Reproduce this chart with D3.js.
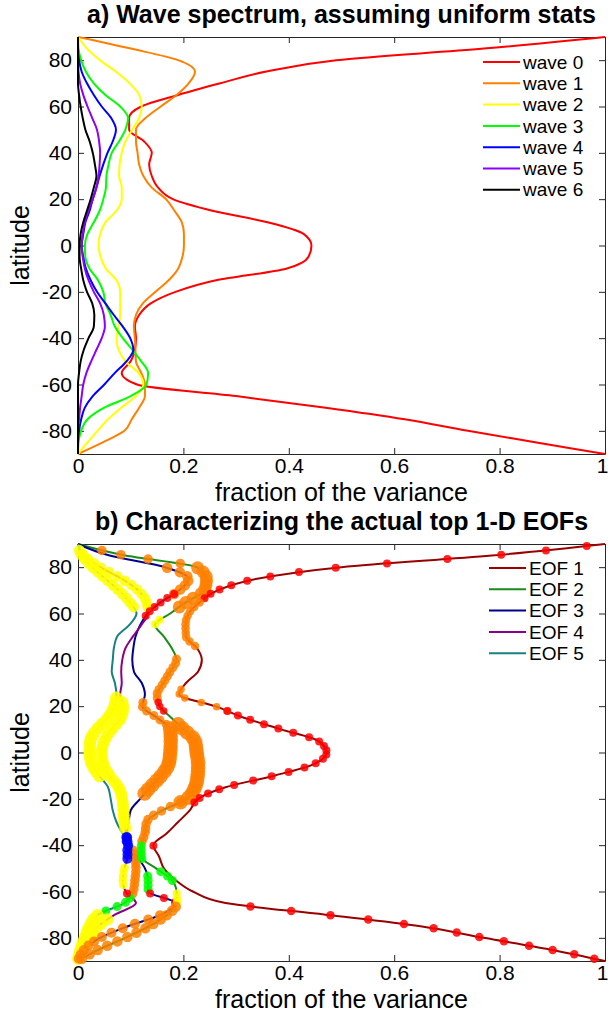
<!DOCTYPE html>
<html>
<head>
<meta charset="utf-8">
<script src="https://cdn.jsdelivr.net/npm/d3@7"></script>
<style>
  body { margin: 0; background: #fff; }
  text { font-family: "Liberation Sans", Arial, Helvetica, sans-serif; }
</style>
</head>
<body>
<div id="chart"></div>
<script>
// latitude grid shared by both panels (south -> north)
var lats = [-90,-85,-80,-75,-70,-65,-60,-55,-50,-45,-40,-35,-30,-25,-20,-15,-10,-5,0,
            5,10,15,20,25,30,35,40,45,50,55,60,65,70,75,80,85,90];

var xTicks = [0, 0.2, 0.4, 0.6, 0.8, 1];
var yTicks = [-80, -60, -40, -20, 0, 20, 40, 60, 80];

// a) fraction of variance per zonal wave number
var waveNames = ["wave 0", "wave 1", "wave 2", "wave 3", "wave 4", "wave 5", "wave 6"];
var waveColors = ["#ff0000", "#ff8000", "#ffff00", "#00ff00", "#0000ff", "#8b00ff", "#000000"];

var wave0 = [1.0,0.87,0.74,0.62,0.47,0.30,0.112,0.083,0.10,0.108,0.11,0.108,0.116,0.138,0.185,0.262,0.395,0.437,0.443,
             0.428,0.36,0.255,0.18,0.152,0.14,0.135,0.14,0.125,0.097,0.097,0.12,0.19,0.27,0.355,0.49,0.77,1.0];
var wave1 = [0,0.047,0.088,0.102,0.116,0.127,0.127,0.12,0.11,0.109,0.108,0.106,0.11,0.123,0.147,0.172,0.19,0.198,0.201,
             0.201,0.197,0.183,0.167,0.14,0.124,0.116,0.113,0.11,0.11,0.128,0.157,0.187,0.21,0.222,0.19,0.10,0];
var wave2 = [0,0.018,0.037,0.057,0.082,0.11,0.124,0.115,0.09,0.077,0.073,0.077,0.08,0.08,0.08,0.073,0.053,0.043,0.039,
             0.042,0.052,0.073,0.083,0.083,0.078,0.079,0.083,0.09,0.103,0.116,0.121,0.116,0.098,0.072,0.042,0.017,0];
var wave3 = [0,0.001,0.006,0.018,0.05,0.10,0.13,0.133,0.12,0.103,0.085,0.07,0.062,0.052,0.048,0.038,0.022,0.014,0.013,
             0.018,0.03,0.041,0.048,0.053,0.054,0.058,0.064,0.078,0.09,0.095,0.08,0.052,0.03,0.015,0.006,0.001,0];
var wave4 = [0,0,0.002,0.006,0.013,0.028,0.05,0.07,0.092,0.105,0.099,0.085,0.068,0.052,0.036,0.024,0.015,0.01,0.007,
             0.01,0.014,0.022,0.028,0.035,0.041,0.048,0.056,0.066,0.072,0.063,0.045,0.03,0.017,0.007,0.002,0,0];
var wave5 = [0,0,0,0.002,0.004,0.007,0.01,0.016,0.025,0.035,0.045,0.051,0.049,0.042,0.03,0.02,0.013,0.009,0.007,
             0.009,0.013,0.02,0.028,0.035,0.039,0.041,0.042,0.04,0.036,0.027,0.018,0.01,0.004,0.001,0,0,0];
var wave6 = [0,0,0,0,0,0,0,0.002,0.005,0.011,0.02,0.03,0.031,0.027,0.017,0.01,0.006,0.003,0.003,
             0.005,0.01,0.017,0.024,0.03,0.035,0.032,0.028,0.022,0.014,0.009,0.005,0.002,0,0,0,0,0];
var waves = [wave0, wave1, wave2, wave3, wave4, wave5, wave6];

// b) fraction of variance carried by the top 1-D EOFs
var eofNames = ["EOF 1", "EOF 2", "EOF 3", "EOF 4", "EOF 5"];
var eofColors = ["#990000", "#1a8c1a", "#00008b", "#8b008b", "#1a8080"];

var eof1 = [1.0,0.895,0.77,0.65,0.47,0.28,0.218,0.185,0.163,0.154,0.143,0.168,0.19,0.212,0.228,0.28,0.372,0.448,0.472,
            0.456,0.385,0.315,0.26,0.192,0.205,0.228,0.235,0.226,0.205,0.204,0.21,0.232,0.265,0.34,0.50,0.785,1.0];
var eof2 = [0,0.04,0.09,0.135,0.17,0.188,0.187,0.178,0.148,0.12,0.12,0.127,0.13,0.16,0.207,0.222,0.227,0.228,0.225,
            0.222,0.2,0.177,0.155,0.15,0.162,0.175,0.187,0.178,0.163,0.146,0.175,0.206,0.24,0.244,0.225,0.09,0];
var eof3 = [0,0.012,0.042,0.095,0.158,0.185,0.133,0.133,0.127,0.112,0.095,0.093,0.096,0.1,0.118,0.137,0.158,0.172,0.175,
            0.176,0.175,0.15,0.122,0.127,0.121,0.106,0.103,0.105,0.109,0.118,0.132,0.158,0.192,0.21,0.165,0.06,0];
var eof4 = [0,0.007,0.02,0.038,0.07,0.11,0.09,0.085,0.088,0.094,0.093,0.091,0.088,0.086,0.084,0.077,0.06,0.048,0.045,
            0.05,0.064,0.082,0.086,0.08,0.083,0.082,0.084,0.09,0.104,0.12,0.133,0.13,0.114,0.083,0.042,0.012,0];
var eof5 = [0,0.005,0.013,0.022,0.038,0.088,0.105,0.108,0.11,0.108,0.1,0.085,0.073,0.066,0.062,0.057,0.04,0.026,0.022,
            0.023,0.036,0.057,0.069,0.073,0.07,0.064,0.066,0.068,0.074,0.097,0.111,0.098,0.077,0.052,0.027,0.007,0];
var eofs = [eof1, eof2, eof3, eof4, eof5];

// which wave dominates an EOF along a latitude band: [north, south, wave number, strength 0..1]
var eof1Marks = [[90,66,0,0.3],[64,46,1,0.35],[28,18,1,0.25],[17,-21,0,0.3],[-40,-40,0,0.3],[-66,-90,0,0.35]];
var eof2Marks = [[88,81,1,0.45],[80,62,1,0.8],[57,55,2,0.3],[40,23,1,0.4],[21,18,0,0.25],[12,-22,1,0.95],
                 [-22,-39,1,0.45],[-40,-46,3,0.4],[-51,-55,3,0.4],[-61,-65,2,0.3],[-66,-90,1,0.55]];
var eof3Marks = [[80,69,1,0.55],[68,60,0,0.3],[22,12,1,0.4],[11,-18,1,0.95],[-37,-41,4,0.5],[-54,-59,3,0.4],
                 [-61,-65,0,0.3],[-70,-90,1,0.5]];
var eof4Marks = [[86,62,2,0.55],[22,-33,2,0.7],[-36,-38,4,0.5],[-43,-46,4,0.5],[-50,-58,2,0.35],[-60,-60,0,0.3],
                 [-73,-90,2,0.75]];
var eof5Marks = [[88,62,2,0.6],[24,-11,2,0.75],[-42,-60,1,0.45],[-63,-69,3,0.4],[-70,-90,2,0.75]];
var eofMarks = [eof1Marks, eof2Marks, eof3Marks, eof4Marks, eof5Marks];

// latitudes of the model grid where markers sit
var gridLats = d3.range(-89, 90, 1.875);

var width = 608, height = 1016;
var left = 78, right = 605;

var x = d3.scaleLinear().domain([0, 1]).range([left, right]);
var r = d3.scaleLinear().domain([0, 1]).range([2.5, 7.5]);

var svg = d3.select("#chart")
    .append("svg")
        .attr("width", width)
        .attr("height", height);

var panels = [
    { top: 37,  bottom: 454, title: "a) Wave spectrum, assuming uniform stats" },
    { top: 544, bottom: 961, title: "b) Characterizing the actual top 1-D EOFs" }
];

function frame(p) {
    var y = d3.scaleLinear().domain([-90, 90]).range([p.bottom, p.top]);
    var g = svg.append("g");

    var xb = g.append("g")
        .attr("transform", "translate(0," + p.bottom + ")")
        .call(d3.axisBottom(x).tickValues(xTicks).tickSizeInner(-6).tickSizeOuter(0)
            .tickPadding(4).tickFormat(String));
    var xt = g.append("g")
        .attr("transform", "translate(0," + p.top + ")")
        .call(d3.axisTop(x).tickValues(xTicks).tickSizeInner(-6).tickSizeOuter(0).tickFormat(""));
    var yl = g.append("g")
        .attr("transform", "translate(" + left + ",0)")
        .call(d3.axisLeft(y).tickValues(yTicks).tickSizeInner(-6).tickSizeOuter(0)
            .tickPadding(6).tickFormat(String));
    var yr = g.append("g")
        .attr("transform", "translate(" + right + ",0)")
        .call(d3.axisRight(y).tickValues(yTicks).tickSizeInner(-6).tickSizeOuter(0).tickFormat(""));

    [xb, xt, yl, yr].forEach(function(a) {
        a.attr("font-size", 21).attr("font-family", null);
        a.selectAll("path, line").attr("stroke", "#262626");
        a.selectAll("text").attr("fill", "#000");
    });
    // keep the last x label inside the page
    xb.selectAll(".tick text").filter(function(d) { return d === 1; }).attr("dx", "-3");

    // title
    g.append("text")
        .attr("x", (left + right) / 2)
        .attr("y", p.top - 14)
        .attr("text-anchor", "middle")
        .attr("font-size", 25)
        .attr("font-weight", "bold")
        .text(p.title);

    // X label
    g.append("text")
        .attr("x", (left + right) / 2)
        .attr("y", p.bottom + 47)
        .attr("text-anchor", "middle")
        .attr("font-size", 25)
        .text("fraction of the variance");

    // Y label
    g.append("text")
        .attr("transform", "translate(29," + (p.top + p.bottom) / 2 + ") rotate(-90)")
        .attr("text-anchor", "middle")
        .attr("font-size", 25)
        .text("latitude");

    return { g: g, y: y };
}

function legend(g, names, colors, x0, y0, step) {
    names.forEach(function(name, i) {
        var yy = y0 + i * step;
        g.append("line")
            .attr("x1", x0).attr("x2", x0 + 37)
            .attr("y1", yy).attr("y2", yy)
            .attr("stroke", colors[i])
            .attr("stroke-width", 2);
        g.append("text")
            .attr("x", x0 + 40)
            .attr("y", yy)
            .attr("dy", "0.35em")
            .attr("font-size", 19)
            .text(name);
    });
}

// ---- panel a ----
var pa = frame(panels[0]);
var lineA = d3.line()
    .x(function(d) { return x(d[1]); })
    .y(function(d) { return pa.y(d[0]); })
    .curve(d3.curveMonotoneY);

waves.forEach(function(w, i) {
    pa.g.append("path")
        .datum(d3.zip(lats, w))
        .attr("fill", "none")
        .attr("stroke", waveColors[i])
        .attr("stroke-width", 2)
        .attr("d", lineA);
});
legend(pa.g, waveNames, waveColors, 483, 62, 21.3);

// ---- panel b ----
var pb = frame(panels[1]);
var lineB = d3.line()
    .x(function(d) { return x(d[1]); })
    .y(function(d) { return pb.y(d[0]); })
    .curve(d3.curveMonotoneY);

var eofPaths = eofs.map(function(e, i) {
    return pb.g.append("path")
        .datum(d3.zip(lats, e))
        .attr("fill", "none")
        .attr("stroke", eofColors[i])
        .attr("stroke-width", 2)
        .attr("d", lineB);
});

// find the point of a drawn curve at a given latitude
function along(path, latList, y) {
    var node = path.node(), L = node.getTotalLength(), pts = [];
    for (var l = 0; l <= L; l += 0.5) pts.push(node.getPointAtLength(l));
    return latList.map(function(lat) {
        var ty = y(lat), best = pts[0];
        pts.forEach(function(p) {
            if (Math.abs(p.y - ty) < Math.abs(best.y - ty)) best = p;
        });
        return best;
    });
}

// markers, EOF 5 first so EOF 1 ends on top
for (var i = eofs.length - 1; i >= 0; i--) {
    eofMarks[i].forEach(function(m) {
        var ls = gridLats.filter(function(l) { return l <= m[0] + 0.9 && l >= m[1] - 0.9; });
        var pts = along(eofPaths[i], ls, pb.y);
        pb.g.selectAll(null)
            .data(pts)
            .enter()
            .append("circle")
                .attr("cx", function(d) { return d.x; })
                .attr("cy", function(d) { return d.y; })
                .attr("r", r(m[3]))
                .attr("fill", waveColors[m[2]])
                .attr("fill-opacity", 0.85);
    });
}

legend(pb.g, eofNames, eofColors, 489, 568, 21.3);
</script>
</body>
</html>
